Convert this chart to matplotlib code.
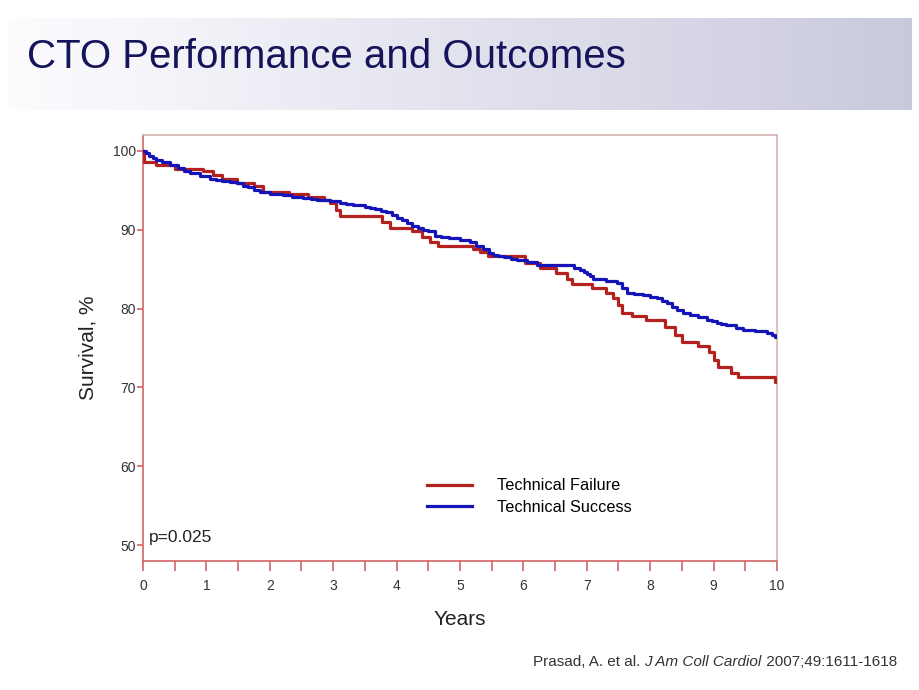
import numpy as np
import matplotlib.pyplot as plt

plt.rcParams['font.family'] = ['Liberation Sans', 'DejaVu Sans']

# Kaplan-Meier step points (years, survival %)
fail_years = [0, 0.02, 0.2, 0.5, 0.95, 1.1, 1.24, 1.48, 1.75, 1.9, 2.3, 2.6, 2.85, 2.95,
              3.05, 3.1, 3.77, 3.9, 4.24, 4.4, 4.53, 4.66, 5.21, 5.32, 5.44, 6.03, 6.26,
              6.52, 6.68, 6.76, 7.08, 7.31, 7.41, 7.5, 7.55, 7.71, 7.94, 8.23, 8.39, 8.5,
              8.76, 8.92, 9.0, 9.07, 9.28, 9.39, 9.97, 10.0]
fail_surv = [100, 98.6, 98.2, 97.7, 97.4, 97.0, 96.5, 96.0, 95.5, 94.8, 94.5, 94.2, 93.8, 93.4,
             92.5, 91.7, 91.0, 90.2, 89.8, 89.1, 88.4, 87.9, 87.5, 87.2, 86.7, 85.8, 85.1,
             84.5, 83.8, 83.1, 82.6, 82.0, 81.3, 80.5, 79.5, 79.0, 78.5, 77.7, 76.6, 75.8,
             75.2, 74.5, 73.5, 72.6, 71.8, 71.3, 70.7, 70.7]

succ_years = [0, 0.05, 0.1, 0.15, 0.2, 0.3, 0.43, 0.55, 0.65, 0.74, 0.9, 1.06, 1.15, 1.25,
              1.38, 1.48, 1.57, 1.65, 1.75, 1.85, 2.0, 2.1, 2.21, 2.35, 2.53, 2.65, 2.75,
              2.95, 3.1, 3.2, 3.32, 3.5, 3.58, 3.66, 3.75, 3.84, 3.92, 4.0, 4.08, 4.16,
              4.25, 4.34, 4.42, 4.5, 4.6, 4.7, 4.82, 5.0, 5.16, 5.26, 5.37, 5.45, 5.52, 5.6,
              5.7, 5.8, 5.9, 6.05, 6.21, 6.68, 6.8, 6.89, 6.95, 7.0, 7.05, 7.1, 7.3, 7.47,
              7.55, 7.63, 7.75, 7.89, 8.0, 8.1, 8.18, 8.26, 8.35, 8.42, 8.52, 8.63, 8.75,
              8.89, 8.97, 9.05, 9.12, 9.2, 9.35, 9.47, 9.65, 9.84, 9.92, 9.97, 10.0]
succ_surv = [100, 99.7, 99.4, 99.1, 98.9, 98.6, 98.2, 97.8, 97.5, 97.2, 96.8, 96.5, 96.35,
             96.2, 96.05, 95.9, 95.6, 95.4, 95.1, 94.8, 94.6, 94.5, 94.4, 94.2, 94.0, 93.9,
             93.8, 93.7, 93.4, 93.3, 93.1, 92.9, 92.75, 92.6, 92.4, 92.2, 91.9, 91.5, 91.2,
             90.8, 90.5, 90.2, 90.0, 89.8, 89.2, 89.05, 88.9, 88.7, 88.5, 88.0, 87.5, 87.1,
             86.8, 86.65, 86.5, 86.35, 86.2, 85.9, 85.5, 85.5, 85.2, 84.9, 84.65, 84.4, 84.1,
             83.8, 83.5, 83.2, 82.6, 82.0, 81.85, 81.7, 81.5, 81.3, 81.0, 80.7, 80.2, 79.8,
             79.5, 79.2, 78.9, 78.6, 78.4, 78.2, 78.05, 77.9, 77.6, 77.3, 77.1, 76.9, 76.7,
             76.4, 76.4]

x_ticks = list(range(0, 11))
y_ticks = [50, 60, 70, 80, 90, 100]

W, H = 920, 690
fig = plt.figure(figsize=(W / 100, H / 100), dpi=100)

# title banner with gradient
bax = fig.add_axes([8 / W, 1 - 110 / H, 904 / W, 92 / H])
grad = np.linspace(0, 1, 256).reshape(1, -1)
left_c = np.array([0.99, 0.99, 1.0])
right_c = np.array([0.79, 0.79, 0.87])
img = left_c[None, None, :] * (1 - grad[..., None]) + right_c[None, None, :] * grad[..., None]
bax.imshow(img, aspect='auto', extent=[0, 1, 0, 1])
bax.axis('off')
fig.text(27 / W, 1 - 57 / H, 'CTO Performance and Outcomes', fontsize=29,
         color='#14145a', va='center', ha='left')

ax = fig.add_axes([143 / W, 1 - 561 / H, 634 / W, 426 / H])
red = '#b3221e'
blue = '#1414b8'
ax.step(fail_years, fail_surv, where='post', color=red, lw=2.3, label='Technical Failure', zorder=3)
ax.step(succ_years, succ_surv, where='post', color=blue, lw=2.3, label='Technical Success', zorder=4)

ax.set_xlim(0, 10)
ax.set_ylim(47.97, 102.03)
ax.set_xticks(x_ticks)
ax.set_xticks(np.arange(0.5, 10, 1), minor=True)
ax.set_yticks(y_ticks)

spine_red = '#d46464'
for s in ['left', 'bottom']:
    ax.spines[s].set_color(spine_red)
    ax.spines[s].set_linewidth(1.2)
for s in ['top', 'right']:
    ax.spines[s].set_color('#d4b4b4')
    ax.spines[s].set_linewidth(1.2)

ax.tick_params(axis='x', which='both', length=7, width=1.2, color=spine_red,
               labelsize=10, labelcolor='#333333', pad=6)
ax.tick_params(axis='y', which='major', length=4, width=1.2, color=spine_red,
               labelsize=10, labelcolor='#333333', pad=1)

ax.set_xlabel('Years', fontsize=15, color='#222222', labelpad=12)
ax.set_ylabel('Survival, %', fontsize=15, color='#222222', labelpad=11)

ax.text(0.1, 50.9, 'p=0.025', fontsize=12.5, color='#222222', va='center', ha='left')

ax.legend(loc='center left', bbox_to_anchor=(0.448, 0.1514), frameon=False, fontsize=11.7,
          handlelength=2.77, handletextpad=1.54, borderpad=0, borderaxespad=0,
          labelspacing=0.4)

t1 = fig.text(533 / W, 1 - 662 / H, 'Prasad, A. et al. ', fontsize=11, color='#333333', va='center')
ann2 = ax.annotate('J Am Coll Cardiol', xy=(1, 0), xycoords=t1, va='bottom', ha='left',
                   fontsize=11, color='#333333', style='italic')
ax.annotate(' 2007;49:1611-1618', xy=(1, 0), xycoords=ann2, va='bottom', ha='left',
            fontsize=11, color='#333333')

fig.savefig('out.png', dpi=100)
